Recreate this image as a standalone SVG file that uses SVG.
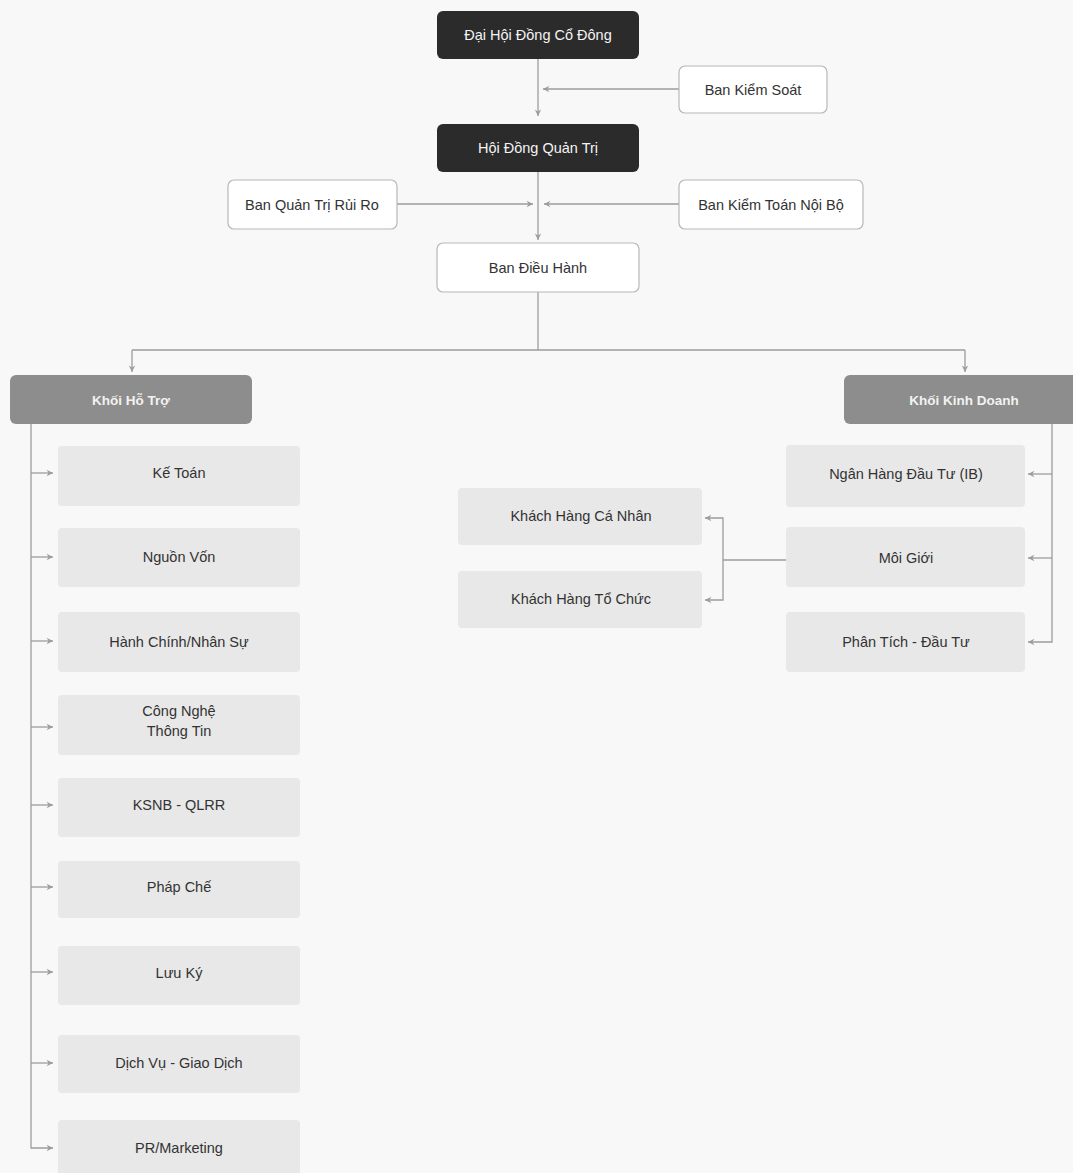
<svg xmlns="http://www.w3.org/2000/svg" width="1073" height="1173" viewBox="0 0 1073 1173">
<defs>
<style>
text{font-family:"Liberation Sans","Noto Sans",Arial,sans-serif;font-size:14.5px;text-anchor:middle;dominant-baseline:central}
.dark rect{fill:#2b2b2b}
.dark text{fill:#f4f4f4}
.white rect{fill:#ffffff;stroke:#b8b8b8;stroke-width:1.2}
.white text{fill:#333}
.group rect{fill:#8d8d8d}
.group text{fill:#f2f2f2;font-weight:bold;font-size:13.5px}
.unit rect{fill:#e8e8e8}
.unit text{fill:#333}
.conn path{fill:none;stroke:#9c9c9c;stroke-width:1.3}
</style>
<marker id="ah" viewBox="0 0 10 10" refX="9" refY="5" markerWidth="8" markerHeight="8" markerUnits="userSpaceOnUse" orient="auto">
<path d="M1,1 L9,5 L1,9 L3.5,5 Z" fill="#9c9c9c"/>
</marker>
</defs>
<rect width="1073" height="1173" fill="#f8f8f8"/>

<g class="conn" id="connectors">
<path d="M538,59 V116" marker-end="url(#ah)"/>
<path d="M679,89 H543" marker-end="url(#ah)"/>
<path d="M538,172 V240" marker-end="url(#ah)"/>
<path d="M397,204 H533" marker-end="url(#ah)"/>
<path d="M679,204 H544" marker-end="url(#ah)"/>
<path d="M538,292 V350"/>
<path d="M132,350 H965"/>
<path d="M132,350 V372" marker-end="url(#ah)"/>
<path d="M965,350 V372" marker-end="url(#ah)"/>
<path d="M31,424 V1148 H53" marker-end="url(#ah)"/>
<path d="M31,473 H53" marker-end="url(#ah)"/>
<path d="M31,557 H53" marker-end="url(#ah)"/>
<path d="M31,641 H53" marker-end="url(#ah)"/>
<path d="M31,727 H53" marker-end="url(#ah)"/>
<path d="M31,805 H53" marker-end="url(#ah)"/>
<path d="M31,887 H53" marker-end="url(#ah)"/>
<path d="M31,972 H53" marker-end="url(#ah)"/>
<path d="M31,1063 H53" marker-end="url(#ah)"/>
<path d="M1052,424 V642 H1028" marker-end="url(#ah)"/>
<path d="M1052,474 H1028" marker-end="url(#ah)"/>
<path d="M1052,558 H1028" marker-end="url(#ah)"/>
<path d="M786,560 H723"/>
<path d="M723,560 V518 H705" marker-end="url(#ah)"/>
<path d="M723,560 V600 H705" marker-end="url(#ah)"/>
</g>

<g id="dhdcd" class="dark"><rect x="437" y="11" width="202" height="48" rx="6"/><text x="538" y="35">Đại Hội Đồng Cổ Đông</text></g>
<g id="bks" class="white"><rect x="679" y="66" width="148" height="47" rx="6"/><text x="753" y="90">Ban Kiểm Soát</text></g>
<g id="hdqt" class="dark"><rect x="437" y="124" width="202" height="48" rx="6"/><text x="538" y="148">Hội Đồng Quản Trị</text></g>
<g id="bqtrr" class="white"><rect x="228" y="180" width="169" height="49" rx="6"/><text x="312" y="205">Ban Quản Trị Rủi Ro</text></g>
<g id="bktnb" class="white"><rect x="679" y="180" width="184" height="49" rx="6"/><text x="771" y="205">Ban Kiểm Toán Nội Bộ</text></g>
<g id="bdh" class="white"><rect x="437" y="243" width="202" height="49" rx="6"/><text x="538" y="268">Ban Điều Hành</text></g>

<g id="khoi-ho-tro" class="group"><rect x="10" y="375" width="242" height="49" rx="6"/><text x="131" y="400">Khối Hỗ Trợ</text></g>
<g id="khoi-kinh-doanh" class="group"><rect x="844" y="375" width="240" height="49" rx="6"/><text x="964" y="400">Khối Kinh Doanh</text></g>

<g id="ke-toan" class="unit"><rect x="58" y="446" width="242" height="60" rx="4"/><text x="179" y="473">Kế Toán</text></g>
<g id="nguon-von" class="unit"><rect x="58" y="528" width="242" height="59" rx="4"/><text x="179" y="557">Nguồn Vốn</text></g>
<g id="hcns" class="unit"><rect x="58" y="612" width="242" height="60" rx="4"/><text x="179" y="642">Hành Chính/Nhân Sự</text></g>
<g id="cntt" class="unit"><rect x="58" y="695" width="242" height="60" rx="4"/><text x="179" y="711">Công Nghệ</text><text x="179" y="731">Thông Tin</text></g>
<g id="ksnb" class="unit"><rect x="58" y="778" width="242" height="59" rx="4"/><text x="179" y="805">KSNB - QLRR</text></g>
<g id="phap-che" class="unit"><rect x="58" y="861" width="242" height="57" rx="4"/><text x="179" y="887">Pháp Chế</text></g>
<g id="luu-ky" class="unit"><rect x="58" y="946" width="242" height="59" rx="4"/><text x="179" y="973">Lưu Ký</text></g>
<g id="dvgd" class="unit"><rect x="58" y="1035" width="242" height="58" rx="4"/><text x="179" y="1063">Dịch Vụ - Giao Dịch</text></g>
<g id="pr" class="unit"><rect x="58" y="1120" width="242" height="60" rx="4"/><text x="179" y="1148">PR/Marketing</text></g>

<g id="nhdt" class="unit"><rect x="786" y="445" width="239" height="62" rx="4"/><text x="906" y="474">Ngân Hàng Đầu Tư (IB)</text></g>
<g id="moi-gioi" class="unit"><rect x="786" y="527" width="239" height="60" rx="4"/><text x="906" y="558">Môi Giới</text></g>
<g id="ptdt" class="unit"><rect x="786" y="612" width="239" height="60" rx="4"/><text x="906" y="642">Phân Tích - Đầu Tư</text></g>
<g id="khcn" class="unit"><rect x="458" y="488" width="244" height="57" rx="4"/><text x="581" y="516">Khách Hàng Cá Nhân</text></g>
<g id="khtc" class="unit"><rect x="458" y="571" width="244" height="57" rx="4"/><text x="581" y="599">Khách Hàng Tổ Chức</text></g>
</svg>
